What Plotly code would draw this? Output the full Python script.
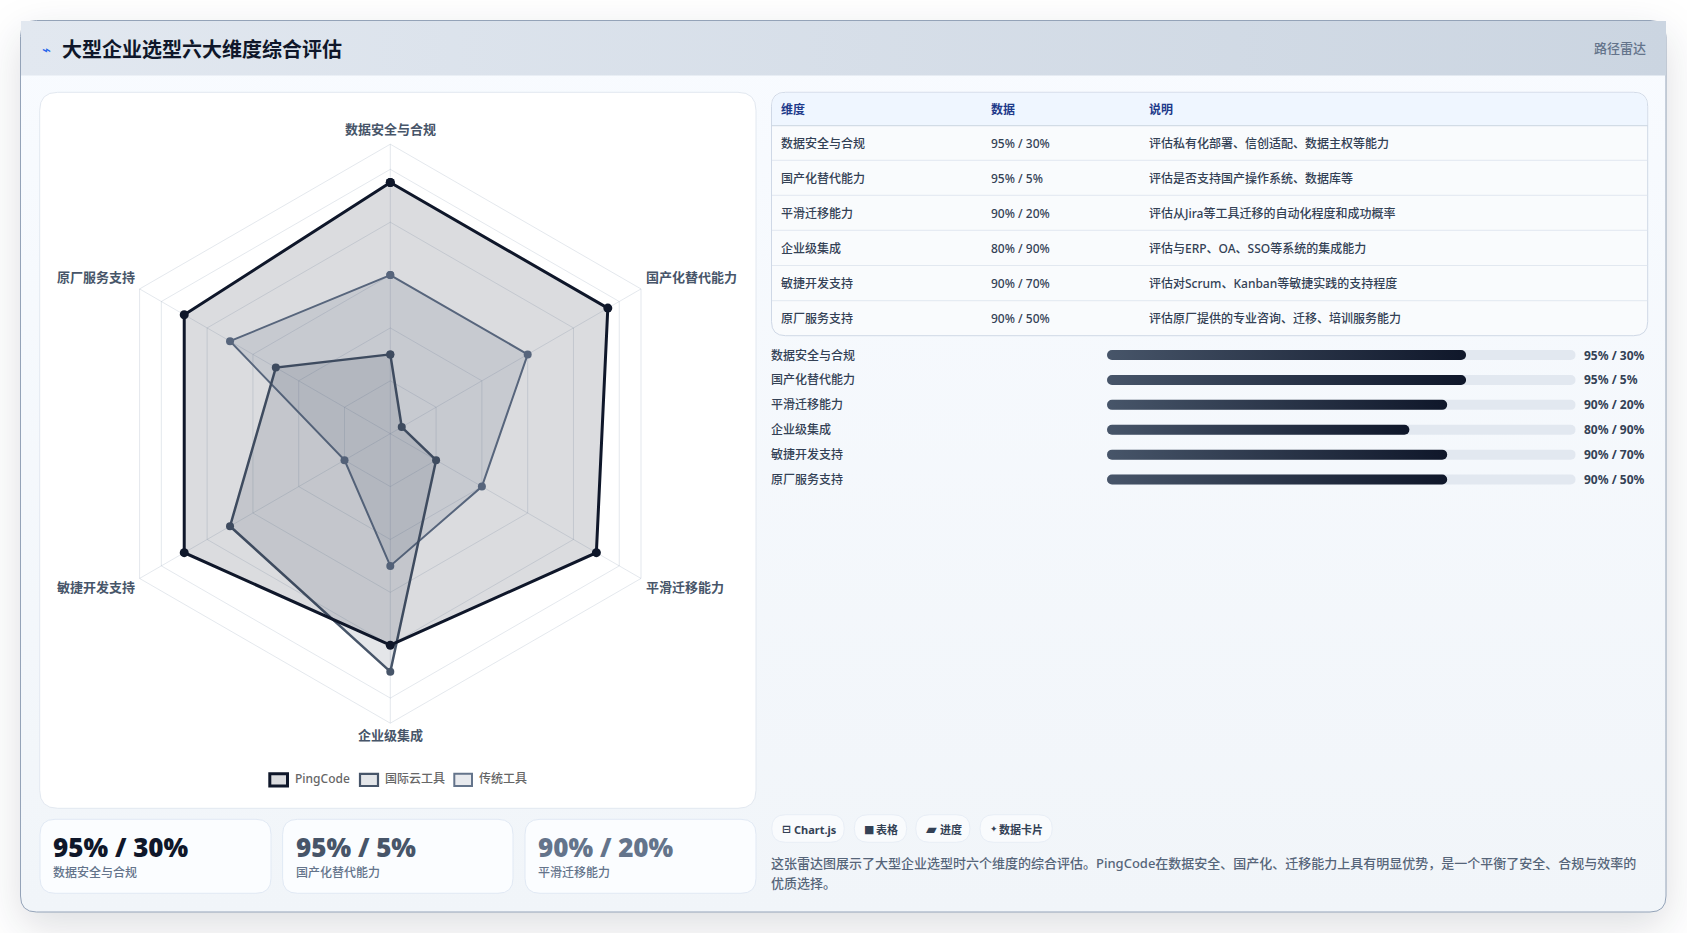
import plotly.graph_objects as go

W, H = 1687, 933
FONT = "Noto Sans, Noto Sans CJK SC, sans-serif"

# ---------- data ----------
dimensions = ["数据安全与合规", "国产化替代能力", "平滑迁移能力", "企业级集成", "敏捷开发支持", "原厂服务支持"]
pingcode = [95, 95, 90, 80, 90, 90]
cloud_tools = [30, 5, 20, 90, 70, 50]
legacy_tools = [60, 60, 40, 50, 20, 70]
series_names = ["PingCode", "国际云工具", "传统工具"]
data_labels = ["95% / 30%", "95% / 5%", "90% / 20%", "80% / 90%", "90% / 70%", "90% / 50%"]
notes = [
    "评估私有化部署、信创适配、数据主权等能力",
    "评估是否支持国产操作系统、数据库等",
    "评估从Jira等工具迁移的自动化程度和成功概率",
    "评估与ERP、OA、SSO等系统的集成能力",
    "评估对Scrum、Kanban等敏捷实践的支持程度",
    "评估原厂提供的专业咨询、迁移、培训服务能力",
]
table_headers = ["维度", "数据", "说明"]
progress_track = [124, 124, 124, 124, 124, 124]
pill_icons = ["⊟", "■", "▰", "✦"]
pill_texts = ["Chart.js", "表格", "进度", "数据卡片"]
title = "大型企业选型六大维度综合评估"
badge = "路径雷达"
description = [
    "这张雷达图展示了大型企业选型时六个维度的综合评估。PingCode在数据安全、国产化、迁移能力上具有明显优势，是一个平衡了安全、合规与效率的",
    "优质选择。",
]

NAVY, SLATE, GREY = "#0f172a", "#475569", "#64748b"


def px(x):
    return x / W


def py(y):
    return 1 - y / H


def rpath(x0, y0, x1, y1, r=0, tl=True, tr=True, br=True, bl=True):
    a, b, c, d = px(x0), px(x1), py(y0), py(y1)
    rx, ry = r / W, r / H
    s = f"M{a + (rx if tl else 0)},{c} L{b - (rx if tr else 0)},{c} "
    if tr:
        s += f"Q{b},{c} {b},{c - ry} "
    s += f"L{b},{d + (ry if br else 0)} "
    if br:
        s += f"Q{b},{d} {b - rx},{d} "
    s += f"L{a + (rx if bl else 0)},{d} "
    if bl:
        s += f"Q{a},{d} {a},{d + ry} "
    s += f"L{a},{c - (ry if tl else 0)} "
    if tl:
        s += f"Q{a},{c} {a + rx},{c} "
    return s + "Z"


shapes = []


def box(x0, y0, x1, y1, r=0, fill="white", line="rgba(0,0,0,0)", lw=1, **k):
    shapes.append(dict(type="path", path=rpath(x0, y0, x1, y1, r, **k), xref="paper", yref="paper",
                       fillcolor=fill, line=dict(color=line, width=lw), layer="below"))


annots = []


def txt(x, y, s, size=12, color="#334155", weight=400, anchor="left", family=FONT):
    annots.append(dict(x=px(x), y=py(y), xref="paper", yref="paper", text=s, showarrow=False,
                       xanchor=anchor, yanchor="middle", borderpad=0,
                       font=dict(size=size, color=color, weight=weight, family=family)))


# ---------- frame ----------
box(20.5, 20.5, 1666, 912, 16, fill="#f5f8fc", line="#94a3b8", lw=1)
box(21, 21, 1666, 75.5, 0, fill="#dbe2eb", tl=False, tr=False, br=False, bl=False)
txt(41, 50, "⌁", 15, "#2563eb", 400, family="DejaVu Sans")
txt(60.5, 49.5, title, 20, NAVY, 700)
txt(1647, 48, badge, 13, GREY, 500, anchor="right")

# ---------- left panel ----------
box(39.7, 92.3, 756, 808.3, 18, fill="#ffffff", line="#e2e8f0")

# legend drawn as in the original (box swatches)
legend_sw = [(269.8, 287.5, 3), (360, 378, 2.2), (454.3, 472, 2)]
legend_tx = [294, 383.5, 477.5]
for (a, b, w), c, tx, name, fc in zip(legend_sw, [NAVY, SLATE, GREY], legend_tx, series_names,
                                      ["rgba(15,23,42,0.15)", "rgba(71,85,105,0.15)", "rgba(100,116,139,0.15)"]):
    shapes.append(dict(type="rect", x0=px(a), x1=px(b), y0=py(773.8), y1=py(786), xref="paper", yref="paper",
                       fillcolor=fc, line=dict(color=c, width=w), layer="below"))
    txt(tx, 778.5, name, 12, "#666666", 500)

# radar axis labels, in the order of the dimensions
label_spots = [(390.5, 129, "center"), (644.5, 277.2, "left"), (644.5, 587, "left"),
               (390.5, 735, "center"), (135.5, 587, "right"), (135.5, 277.2, "right")]
for (x, y, anc), d in zip(label_spots, dimensions):
    txt(x, y, d, 13, SLATE, 600, anchor=anc)

# ---------- stat cards ----------
for (a, b), v, d, c in zip([(40, 271), (282.6, 513), (525, 756)], data_labels, dimensions, [NAVY, SLATE, GREY]):
    box(a, 819.3, b, 893.3, 15, fill="#fbfdff", line="#e1e9f4")
    txt(a + 12.2, 846.7, v, 26, c, 900)
    txt(a + 12.2, 872.7, d, 12, GREY, 500)

# ---------- table ----------
box(771.5, 92.3, 1647.7, 335.7, 14, fill="#f9fbfd", line="#cfd8e6")
box(772, 92.8, 1647.2, 125.7, 14, fill="#eff6ff", br=False, bl=False)
shapes.append(dict(type="line", x0=px(771.5), x1=px(1647.7), y0=py(125.7), y1=py(125.7), xref="paper", yref="paper",
                   line=dict(color="#cbd5e1", width=1), layer="below"))
for yl in [160.3, 195.3, 230.3, 265.5, 300.7]:
    shapes.append(dict(type="line", x0=px(772), x1=px(1647.2), y0=py(yl), y1=py(yl), xref="paper", yref="paper",
                       line=dict(color="#e2e8f0", width=1), layer="below"))
col_x = [780, 990, 1147.7]
for cx, h in zip(col_x, table_headers):
    txt(cx, 109.3, h, 12, "#1e3a8a", 700)
row_y = [143.7, 178.7, 213.7, 248.7, 283.7, 318.7]
for y, d, v, n in zip(row_y, dimensions, data_labels, notes):
    txt(col_x[0], y, d, 12, "#334155", 500)
    txt(col_x[1], y, v, 12, "#334155", 500)
    txt(col_x[2], y, n, 12, "#334155", 500)

# ---------- progress labels ----------
bar_y = [355, 379.5, 404.5, 429.5, 454.5, 479.5]
for y, d, v in zip(bar_y, dimensions, data_labels):
    txt(770, y, d, 12, "#334155", 500)
    txt(1583.3, y, v, 12, "#334155", 700)

# ---------- pills and description ----------
pill_boxes = [(771.7, 844.3), (854.3, 906.7), (915.7, 970), (980, 1052.3)]
icon_x = [781.2, 863, 925, 989]
pill_tx = [792.7, 875, 938.5, 997.5]
icon_size = [11, 11, 14, 9]
for (a, b), ic, t, ix, tx, sz in zip(pill_boxes, pill_icons, pill_texts, icon_x, pill_tx, icon_size):
    box(a, 814.7, b, 842.3, 13.8, fill="#f9fbfd", line="#e8eef6")
    txt(ix, 829, ic, sz, "#334155", 700, family="DejaVu Sans")
    txt(tx, 829, t, 11, "#334155", 700)
txt(769.6, 863.3, description[0], 13, "#566579", 500)
txt(769.6, 882.8, description[1], 13, "#566579", 500)

# ---------- figure ----------
fig = go.Figure()
cats = dimensions + dimensions[:1]
radar = [
    (series_names[2], legacy_tools, GREY, "rgba(100,116,139,0.15)", 2, 8),
    (series_names[1], cloud_tools, SLATE, "rgba(71,85,105,0.15)", 2.5, 8),
    (series_names[0], pingcode, NAVY, "rgba(15,23,42,0.15)", 3, 9),
]
for name, vals, color, fc, lw, ms in radar:
    fig.add_trace(go.Scatterpolar(r=vals + vals[:1], theta=cats, name=name, mode="lines+markers", fill="toself",
                                  fillcolor=fc, line=dict(color=color, width=lw),
                                  marker=dict(color=color, size=ms), showlegend=False, hoverinfo="skip"))

fig.add_trace(go.Bar(y=dimensions, x=progress_track, orientation="h", width=0.403,
                     marker=dict(color="#e2e8f0", line=dict(width=0)),
                     showlegend=False, hoverinfo="skip"))
fig.add_trace(go.Bar(y=dimensions, x=pingcode, orientation="h", width=0.403,
                     marker=dict(color=NAVY, line=dict(width=0)),
                     showlegend=False, hoverinfo="skip"))

cx, cy, R = 390.3, 433.7, 289.5
grid = "rgba(148,163,184,0.25)"
fig.update_layout(
    width=W, height=H, margin=dict(l=0, r=0, t=0, b=0), autosize=False,
    paper_bgcolor="#ffffff", plot_bgcolor="rgba(0,0,0,0)", showlegend=False,
    font=dict(family=FONT), barmode="overlay",
    shapes=shapes, annotations=annots,
    polar=dict(
        domain=dict(x=[px(cx - R), px(cx + R)], y=[py(cy + R), py(cy - R)]),
        bgcolor="rgba(0,0,0,0)", gridshape="linear",
        radialaxis=dict(range=[0, 109.5], tickvals=[20, 40, 60, 80, 100], showticklabels=False, ticks="",
                        showline=False, gridcolor=grid, gridwidth=1),
        angularaxis=dict(type="category", categoryorder="array", categoryarray=dimensions, direction="clockwise",
                         rotation=90, ticks="", gridcolor=grid, linecolor=grid, linewidth=1,
                         showticklabels=False),
    ),
    xaxis=dict(domain=[px(1107), px(1575.7)], range=[0, 124], visible=False, fixedrange=True),
    yaxis=dict(domain=[py(492), py(342.6)], range=[5.5, -0.5], type="category", categoryorder="array",
               categoryarray=dimensions, visible=False, fixedrange=True),
)

post = """
document.body.style.margin='0';
document.documentElement.style.overflow='hidden';
var gd=document.getElementById('{plot_id}');
var svg=gd.querySelector('svg.main-svg');
var NS='http://www.w3.org/2000/svg';
var defs=document.createElementNS(NS,'defs');
function grad(id,x2,y2,a,b){
  var g=document.createElementNS(NS,'linearGradient');
  g.setAttribute('id',id);g.setAttribute('x1','0');g.setAttribute('y1','0');
  g.setAttribute('x2',x2);g.setAttribute('y2',y2);
  [[0,a],[1,b]].forEach(function(s){var t=document.createElementNS(NS,'stop');
    t.setAttribute('offset',s[0]);t.setAttribute('stop-color',s[1]);g.appendChild(t);});
  defs.appendChild(g);
}
grad('gBar','1','0','#475569','#0f172a');
grad('gHead','1','0','#e2e8f0','#cbd5e1');
grad('gBody','0','1','#f8fbff','#f1f5f9');
svg.insertBefore(defs,svg.firstChild);
var sh=gd.querySelectorAll('.layer-below .shapelayer path');
sh[0].style.fill='url(#gBody)';
sh[0].style.filter='drop-shadow(0 14px 20px rgba(15,23,42,0.14))';
sh[1].style.fill='url(#gHead)';
var tr=gd.querySelectorAll('.barlayer .trace');
tr.forEach(function(t,i){
  t.querySelectorAll('path').forEach(function(p){
    var b=p.getBBox();
    if(!b.width) return;
    var r=b.height/2, x=b.x, y=b.y, w=b.width, h=b.height;
    p.setAttribute('d','M'+(x+r)+','+y+'H'+(x+w-r)+'A'+r+','+r+' 0 0 1 '+(x+w-r)+','+(y+h)+'H'+(x+r)+'A'+r+','+r+' 0 0 1 '+(x+r)+','+y+'Z');
    if(i===tr.length-1) p.style.fill='url(#gBar)';
  });
});
"""
fig.write_html("out.html", post_script=post, config={"displayModeBar": False})
